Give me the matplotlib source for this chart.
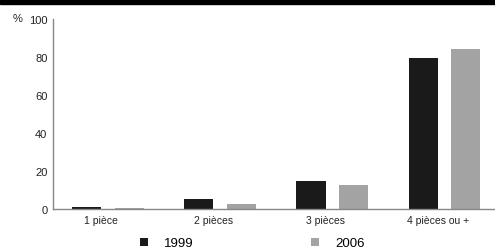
import matplotlib
matplotlib.use("Agg")
import matplotlib.pyplot as plt
import numpy as np

categories = ["1 pièce", "2 pièces", "3 pièces", "4 pièces ou +"]
series_names = ["1999", "2006"]
values_1999 = [0.8, 5.5, 14.5, 79.5]
values_2006 = [0.5, 2.8, 12.8, 84.0]
yticks = [0, 20, 40, 60, 80, 100]

plt.rcParams['font.family'] = ['Liberation Sans', 'DejaVu Sans']

fig = plt.figure(figsize=(4.95, 2.53), dpi=100)
ax = fig.add_axes([0.107, 0.17, 0.893, 0.751])

x = np.arange(len(categories))
w = 0.26
off = 0.19
ax.bar(x - off, values_1999, width=w, color="#1a1a1a", label=series_names[0])
ax.bar(x + off, values_2006, width=w, color="#a3a3a3", label=series_names[1])

ax.set_xlim(-0.49, 3.45)
ax.set_ylim(0, 100)
ax.set_yticks(yticks)
ax.set_yticklabels([str(t) for t in yticks], fontsize=8, color="#222222")
ax.set_xticks(x - 0.06)
ax.set_xticklabels(categories, fontsize=7.5, color="#222222")
ax.tick_params(length=0, pad=4)
for s in ["top", "right"]:
    ax.spines[s].set_visible(False)
for s in ["left", "bottom"]:
    ax.spines[s].set_color("#888888")
    ax.spines[s].set_linewidth(1.0)

fig.text(0.025, 0.925, "%", fontsize=8, color="#222222", va="center")

leg = fig.legend(loc="lower center", bbox_to_anchor=(0.51, -0.037), ncol=2,
                 frameon=False, fontsize=9.5, handlelength=0.6, handleheight=0.6,
                 columnspacing=8.9, handletextpad=1.2)

# black band at top
fig.patches.append(plt.Rectangle((0, 0.982), 1, 0.02, transform=fig.transFigure,
                                 color="black", zorder=10))

fig.savefig("out.png", dpi=100)
